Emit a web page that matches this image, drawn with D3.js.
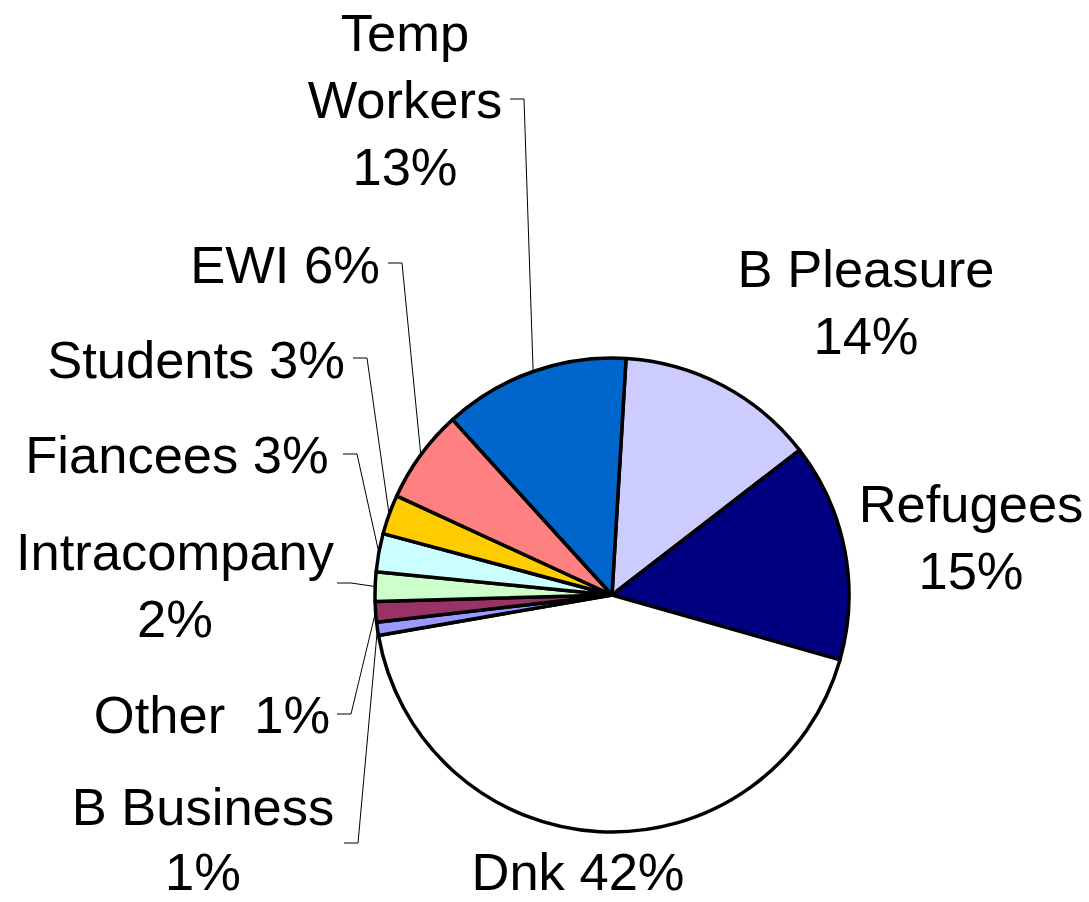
<!DOCTYPE html>
<html lang="en">
<head>
<meta charset="utf-8">
<title>Pie</title>
<style>
  body { margin: 0; background: #fff; }
  text { font-family: "Liberation Sans", Arial, sans-serif; font-size: 52.5px; fill: #000; white-space: pre; }
</style>
</head>
<body>
<div id="chart"></div>
<script src="https://d3js.org/d3.v7.min.js"></script>
<script>
// data, clockwise from just right of 12 o'clock
var categories = ["B Pleasure", "Refugees", "Dnk", "B Business", "Other",
                  "Intracompany", "Fiancees", "Students", "EWI", "Temp Workers"];
var shares = [13.6, 14.9, 42.9, 0.9, 1.4, 2.0, 2.6, 2.7, 6.4, 12.7];
var labelLines = [["B Pleasure", "14%"], ["Refugees", "15%"], ["Dnk 42%"],
                  ["B Business", "1%"], ["Other  1%"], ["Intracompany", "2%"],
                  ["Fiancees 3%"], ["Students 3%"], ["EWI 6%"], ["Temp", "Workers", "13%"]];
var colors = ["#CCCCFF", "#000080", "#FFFFFF", "#9999FF", "#993366",
              "#CCFFCC", "#CCFFFF", "#FFCC00", "#FF8080", "#0066CC"];

// label placement (center x, first baseline) and leader start, in page px
var labelPos = [[866, 287], [971, 522], [578, 890], [203, 825], [212, 733],
                [175, 570], [177, 473], [196, 378], [285, 283], [405, 51]];
var leaderStart = [null, null, null, [344, 843], [337, 714],
                   [337, 583], [343, 454], [353, 358], [388, 263], [510, 99]];

var width = 1089, height = 902,
    cx = 612, cy = 595, radius = 237,
    lineH = 67,
    startA = 3.4 * Math.PI / 180;

var svg = d3.select("#chart").append("svg")
    .attr("width", width)
    .attr("height", height);

var pie = d3.pie().sort(null).value(function(d) { return d; })
    .startAngle(startA).endAngle(startA + 2 * Math.PI);
var arcs = pie(shares);

var arc = d3.arc().innerRadius(0).outerRadius(radius);

// leader lines first so the pie sits on top
svg.append("g").selectAll("polyline")
    .data(arcs.filter(function(d, i) { return leaderStart[i]; }))
    .enter()
    .append("polyline")
    .attr("fill", "none")
    .attr("stroke", "#000")
    .attr("stroke-width", 1)
    .attr("points", function(d) {
        var s = leaderStart[d.index];
        var mid = (d.startAngle + d.endAngle) / 2;
        var ex = cx + radius * Math.sin(mid), ey = cy - radius * Math.cos(mid);
        return [[s[0], s[1]], [s[0] + 14, s[1]], [ex, ey]].join(" ");
    });

svg.append("g")
    .attr("transform", "translate(" + cx + "," + cy + ")")
    .selectAll("path")
    .data(arcs)
    .enter()
    .append("path")
    .attr("d", arc)
    .attr("fill", function(d) { return colors[d.index]; })
    .attr("stroke", "#000")
    .attr("stroke-width", 3.5)
    .attr("stroke-linejoin", "round");

var labels = svg.append("g").selectAll("text")
    .data(categories)
    .enter()
    .append("text")
    .attr("text-anchor", "middle")
    .attr("x", function(d, i) { return labelPos[i][0]; })
    .attr("y", function(d, i) { return labelPos[i][1]; });

labels.each(function(d, i) {
    var t = d3.select(this);
    labelLines[i].forEach(function(line, j) {
        t.append("tspan")
            .attr("x", labelPos[i][0])
            .attr("dy", j === 0 ? 0 : (i === 3 ? lineH - 2 : lineH))
            .text(line);
    });
});
</script>
</body>
</html>
